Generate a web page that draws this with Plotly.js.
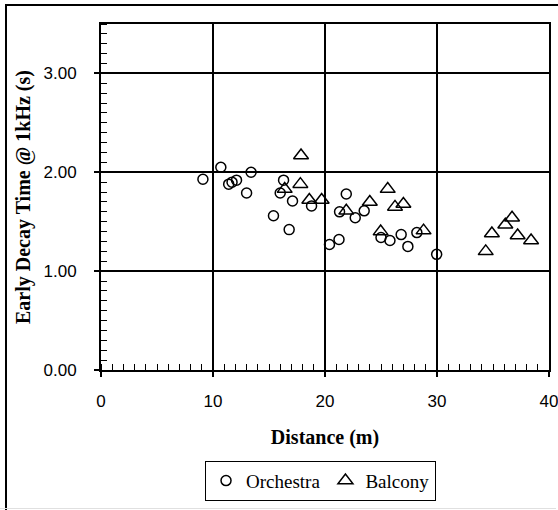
<!DOCTYPE html>
<html>
<head>
<meta charset="utf-8">
<script src="https://cdn.plot.ly/plotly-3.0.1.min.js"></script>
<style>
html,body{margin:0;padding:0;background:#fff;}
#wrap{position:relative;width:558px;height:510px;}
#chart{width:558px;height:510px;}
#frame{position:absolute;left:5px;top:4px;right:0;bottom:0;border-left:2px solid #000;border-top:2px solid #000;pointer-events:none;}
#base{position:absolute;left:0;right:2px;top:508px;height:1px;background:#e0e0e0;pointer-events:none;}
</style>
</head>
<body>
<div id="wrap"><div id="chart"></div><div id="frame"></div><div id="base"></div></div>
<script>
// Orchestra seats: distance (m) and EDT @ 1kHz (s)
const orchestraDistance = [9.1, 10.7, 11.4, 11.7, 12.1, 13.0, 13.4, 15.4, 16.0, 16.3, 16.8, 17.1, 18.8, 20.4, 21.25, 21.3, 21.9, 22.7, 23.5, 25.0, 25.8, 26.8, 27.4, 28.2, 29.97];
const orchestraEDT      = [1.93, 2.05, 1.88, 1.90, 1.92, 1.79, 2.00, 1.56, 1.79, 1.92, 1.42, 1.71, 1.66, 1.27, 1.32, 1.60, 1.78, 1.54, 1.61, 1.34, 1.31, 1.37, 1.25, 1.39, 1.17];
// Balcony seats
const balconyDistance = [16.4, 17.8, 17.86, 18.6, 19.7, 21.9, 24.0, 24.97, 25.6, 26.25, 27.0, 28.8, 34.35, 34.9, 36.1, 36.7, 37.2, 38.4];
const balconyEDT      = [1.83, 1.88, 2.17, 1.72, 1.72, 1.61, 1.70, 1.40, 1.83, 1.65, 1.68, 1.41, 1.20, 1.38, 1.47, 1.54, 1.36, 1.31];

const seriesNames = ['Orchestra', 'Balcony'];
const xTitle = 'Distance (m)';
const yTitle = 'Early Decay Time @ 1kHz (s)';

const serif = '"Liberation Serif", "Times New Roman", serif';
const sans = '"Liberation Sans Narrow", "Liberation Sans", Arial, sans-serif';

const traces = [
  {
    x: orchestraDistance, y: orchestraEDT, name: seriesNames[0],
    type: 'scatter', mode: 'markers',
    marker: {symbol: 'circle-open', size: 10, color: '#000', line: {width: 1.5, color: '#000'}}
  },
  {
    x: balconyDistance, y: balconyEDT, name: seriesNames[1],
    type: 'scatter', mode: 'markers',
    marker: {symbol: 'triangle-up-open', size: 13, color: '#000', line: {width: 1.5, color: '#000'}}
  }
];

const layout = {
  width: 558, height: 510,
  paper_bgcolor: '#fff', plot_bgcolor: '#fff',
  margin: {l: 101, r: 9, t: 24, b: 140},
  showlegend: true,
  legend: {
    orientation: 'h', x: 0.49, xanchor: 'center', y: -0.32, yanchor: 'middle',
    bordercolor: '#000', borderwidth: 1, bgcolor: '#fff',
    font: {family: serif, size: 19, color: '#000'},
    itemwidth: 30, tracegroupgap: 0
  },
  xaxis: {
    range: [0, 40], dtick: 10, tick0: 0,
    showline: true, linecolor: '#000', linewidth: 2, mirror: true,
    showgrid: true, gridcolor: '#000', gridwidth: 2,
    zeroline: false,
    ticks: 'outside', ticklen: 5, tickwidth: 2, tickcolor: '#000',
    ticklabelstandoff: 10, ticklabeloverflow: 'allow',
    tickfont: {family: sans, size: 17, color: '#000'},
    minor: {dtick: 1, ticks: 'inside', ticklen: 6, tickwidth: 1, tickcolor: '#000', showgrid: false},
    title: {text: xTitle, font: {family: serif, size: 20, color: '#000', weight: 'bold'}, standoff: 20},
    automargin: false, fixedrange: true
  },
  yaxis: {
    range: [0, 3.5], dtick: 1, tick0: 0, tickformat: '.2f',
    showline: true, linecolor: '#000', linewidth: 2, mirror: true,
    showgrid: true, gridcolor: '#000', gridwidth: 2,
    zeroline: false,
    ticks: 'outside', ticklen: 5, tickwidth: 2, tickcolor: '#000',
    ticklabelstandoff: 14, ticklabeloverflow: 'allow',
    tickfont: {family: sans, size: 17, color: '#000'},
    minor: {dtick: 0.1, ticks: 'inside', ticklen: 6, tickwidth: 1, tickcolor: '#000', showgrid: false},
    title: {text: yTitle, font: {family: serif, size: 20, color: '#000', weight: 'bold'}, standoff: 8},
    automargin: false, fixedrange: true
  }
};

Plotly.newPlot('chart', traces, layout, {staticPlot: true, displayModeBar: false});
</script>
</body>
</html>
